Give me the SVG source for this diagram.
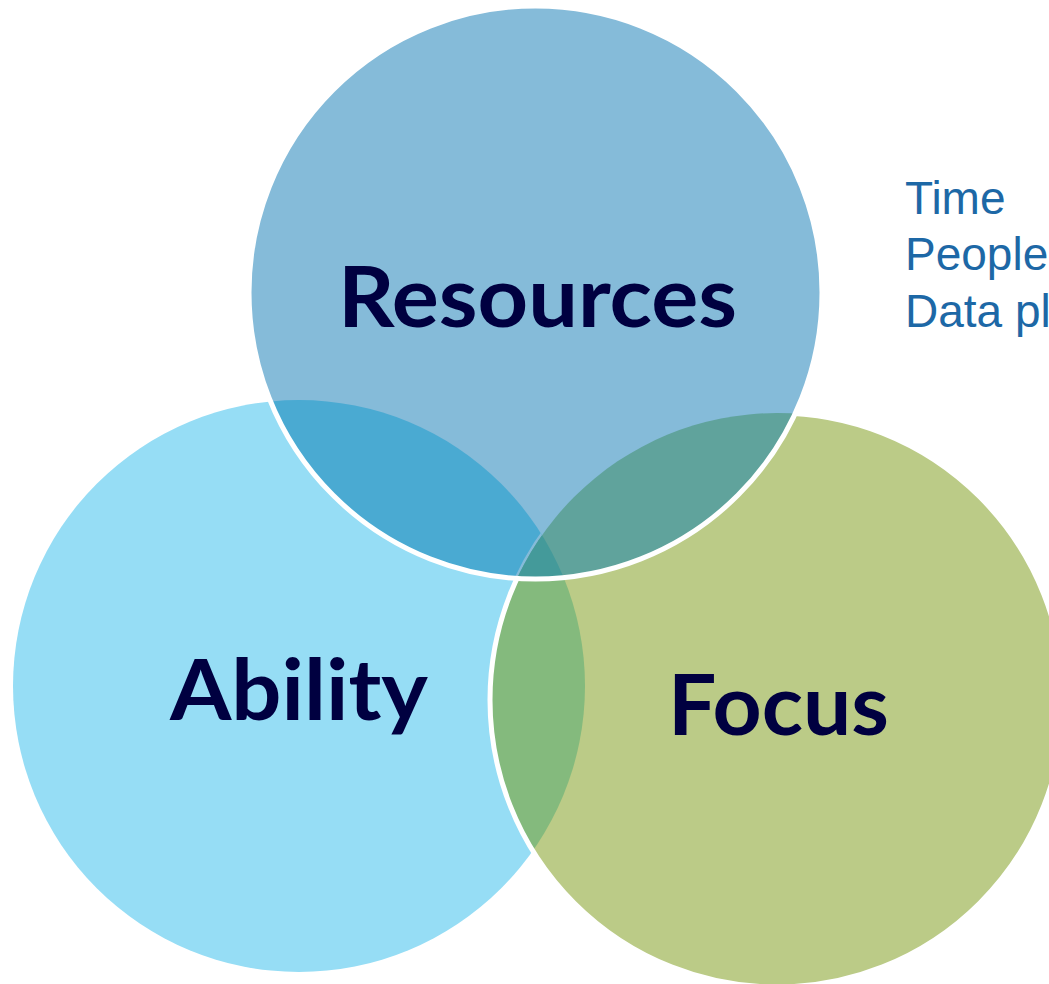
<svg xmlns="http://www.w3.org/2000/svg" width="1049" height="984" viewBox="0 0 1049 984">
  <defs>
    <clipPath id="cpAbility"><circle cx="299" cy="686" r="286"/></clipPath>
    <clipPath id="cpResources"><circle cx="535.5" cy="292.5" r="286.5"/></clipPath>
    <style>
      .label { font-family: "Lato", "Liberation Sans", sans-serif; font-weight: 700; fill: #000040; }
      .note { font-family: "Liberation Sans", Arial, sans-serif; font-size: 46px; fill: #1D68A6; }
      .ring { fill: none; stroke: #ffffff; stroke-width: 5; }
    </style>
  </defs>
  <rect width="1049" height="984" fill="#ffffff"/>

  <g id="ability">
    <circle cx="299" cy="686" r="286" fill="#96DDF5"/>
  </g>

  <g id="focus">
    <circle cx="777" cy="700" r="287" fill="#BBCB87"/>
    <g clip-path="url(#cpAbility)">
      <circle cx="777" cy="700" r="287" fill="#84BA7D"/>
    </g>
    <circle class="ring" cx="777" cy="700" r="287"/>
  </g>

  <g id="resources">
    <circle cx="535.5" cy="292.5" r="286.5" fill="#85BBD9"/>
    <g clip-path="url(#cpAbility)">
      <circle cx="535.5" cy="292.5" r="286.5" fill="#4AAAD2"/>
      <g clip-path="url(#cpResources)">
        <circle cx="777" cy="700" r="287" fill="none" stroke="#85BBD9" stroke-width="5"/>
      </g>
    </g>
    <g clip-path="url(#cpResources)">
      <circle cx="777" cy="700" r="287" fill="#60A39C"/>
      <g clip-path="url(#cpAbility)">
        <circle cx="777" cy="700" r="287" fill="#449A9A"/>
      </g>
    </g>
    <circle class="ring" cx="535.5" cy="292.5" r="286.5"/>
  </g>

  <g id="labels">
    <text class="label" x="338" y="327" font-size="84" textLength="399" lengthAdjust="spacingAndGlyphs">Resources</text>
    <text class="label" x="170" y="720" font-size="84" textLength="258" lengthAdjust="spacingAndGlyphs">Ability</text>
    <text class="label" x="668" y="735" font-size="84" textLength="221" lengthAdjust="spacingAndGlyphs">Focus</text>
  </g>

  <g id="notes">
    <text class="note" x="905" y="214">Time</text>
    <text class="note" x="905" y="270">People</text>
    <text class="note" x="905" y="327">Data pl</text>
  </g>
</svg>
